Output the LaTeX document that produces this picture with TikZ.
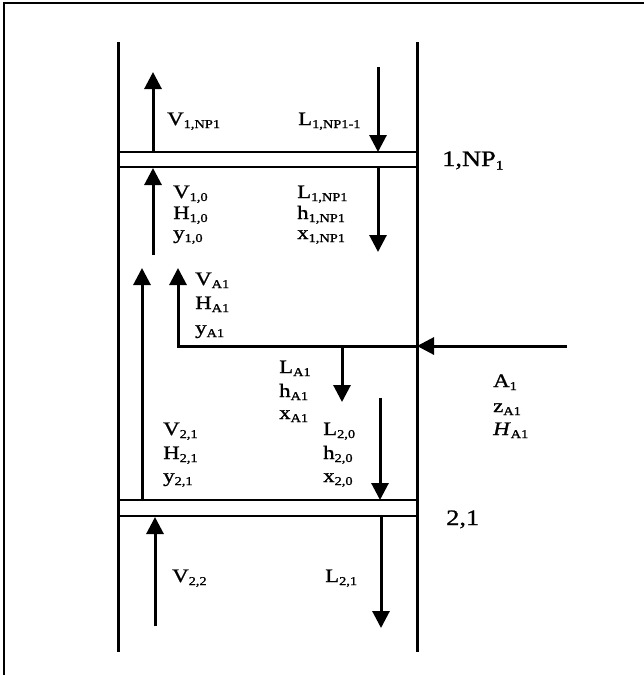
\documentclass[tikz,border=0pt]{standalone}
\usepackage{fontspec}
\setmainfont[FakeStretch=1.2,FakeBold=1.1]{Liberation Serif}
\usetikzlibrary{arrows.meta}
\newcommand{\sbs}[1]{\raisebox{-3pt}{\fontsize{12}{14}\selectfont #1}}
\newcommand{\sbsbig}[1]{\raisebox{-3.5pt}{\fontsize{13}{15}\selectfont #1}}
\begin{document}
\begin{tikzpicture}[x=1pt,y=-1pt,
  wall/.style={line width=3pt},
  tray/.style={line width=2.6pt},
  flow/.style={line width=3pt,-{Triangle[width=17pt,length=17pt]}},
  lbl/.style={anchor=base west,inner sep=0pt,font=\fontsize{19}{22}\selectfont},
  stagelbl/.style={anchor=base west,inner sep=0pt,font=\fontsize{22}{26}\selectfont}]
\useasboundingbox (0,0) rectangle (644,675);
% frame
\draw[line width=2pt] (4,675) -- (4,3) -- (644,3);
% column walls
\coordinate (lwt) at (118,42); \coordinate (lwb) at (118,652);
\coordinate (rwt) at (417,42); \coordinate (rwb) at (417,652);
\draw[wall] (lwt) -- (lwb);
\draw[wall] (rwt) -- (rwb);
% trays
\coordinate (t1a) at (118,152); \coordinate (t1b) at (417,152);
\coordinate (t1c) at (118,167); \coordinate (t1d) at (417,167);
\coordinate (t2a) at (118,500); \coordinate (t2b) at (417,500);
\coordinate (t2c) at (118,516); \coordinate (t2d) at (417,516);
\draw[tray] (t1a) -- (t1b);
\draw[tray] (t1c) -- (t1d);
\draw[tray] (t2a) -- (t2b);
\draw[tray] (t2c) -- (t2d);
% flows above tray 1
\coordinate (v1s) at (153,152); \coordinate (v1e) at (153,72);
\draw[flow] (v1s) -- (v1e);
\coordinate (l1s) at (378,67); \coordinate (l1e) at (378,152);
\draw[flow] (l1s) -- (l1e);
% flows below tray 1
\coordinate (v0s) at (153,255); \coordinate (v0e) at (153,168);
\draw[flow] (v0s) -- (v0e);
\coordinate (l0s) at (378,168); \coordinate (l0e) at (378,252);
\draw[flow] (l0s) -- (l0e);
% long vapour arrow
\coordinate (lvs) at (142,500); \coordinate (lve) at (142,268);
\draw[flow] (lvs) -- (lve);
% feed
\coordinate (fin) at (567,346); \coordinate (fw) at (417,346);
\coordinate (fc) at (178,346); \coordinate (fv) at (178,268);
\draw[flow] (fin) -- (fw);
\draw[flow] (fw) -- (fc) -- (fv);
\coordinate (las) at (342,346); \coordinate (lae) at (342,402);
\draw[flow] (las) -- (lae);
% flows above tray 2
\coordinate (l20s) at (380,398); \coordinate (l20e) at (380,500);
\draw[flow] (l20s) -- (l20e);
% flows below tray 2
\coordinate (v22s) at (155,626); \coordinate (v22e) at (155,517);
\draw[flow] (v22s) -- (v22e);
\coordinate (l21s) at (381,517); \coordinate (l21e) at (381,628);
\draw[flow] (l21s) -- (l21e);
% labels
\node[lbl] (nv1) at (167,125) {V\sbs{1,NP1}};
\node[lbl] (nl1) at (298,125) {L\sbs{1,NP1-1}};
\node[lbl] (nv0) at (173,198) {V\sbs{1,0}};
\node[lbl] (nh0) at (173,219) {H\sbs{1,0}};
\node[lbl] (ny0) at (173,239) {y\sbs{1,0}};
\node[lbl] (nl0) at (297,198) {L\sbs{1,NP1}};
\node[lbl] (nhl0) at (297,219) {h\sbs{1,NP1}};
\node[lbl] (nx0) at (297,239) {x\sbs{1,NP1}};
\node[stagelbl] (s1) at (442,166) {1,NP\sbsbig{1}};
\node[lbl] (nva) at (195,285) {V\sbs{A1}};
\node[lbl] (nha) at (195,309) {H\sbs{A1}};
\node[lbl] (nya) at (195,334) {y\sbs{A1}};
\node[lbl] (nla) at (279,373) {L\sbs{A1}};
\node[lbl] (nhla) at (279,397) {h\sbs{A1}};
\node[lbl] (nxa) at (279,419) {x\sbs{A1}};
\node[lbl] (nv21) at (163,435) {V\sbs{2,1}};
\node[lbl] (nh21) at (163,459) {H\sbs{2,1}};
\node[lbl] (ny21) at (163,482) {y\sbs{2,1}};
\node[lbl] (nl20) at (323,435) {L\sbs{2,0}};
\node[lbl] (nhl20) at (323,459) {h\sbs{2,0}};
\node[lbl] (nx20) at (323,482) {x\sbs{2,0}};
\node[lbl] (nA) at (493,387) {A\sbs{1}};
\node[lbl] (nz) at (493,412) {z\sbs{A1}};
\node[lbl] (nHf) at (493,435) {\textit{H}\sbs{A1}};
\node[stagelbl] (s2) at (446,525) {2,1};
\node[lbl] (nv22) at (172,582) {V\sbs{2,2}};
\node[lbl] (nl21) at (325,582) {L\sbs{2,1}};
\end{tikzpicture}
\end{document}
